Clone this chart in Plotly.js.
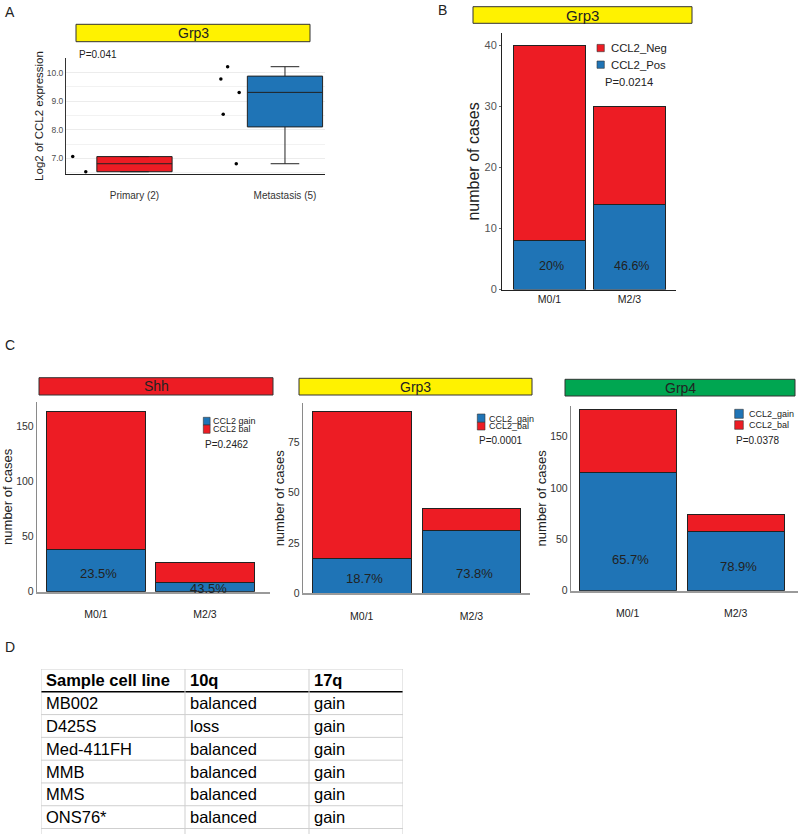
<!DOCTYPE html>
<html><head><meta charset="utf-8">
<script src="https://cdn.plot.ly/plotly-3.0.1.min.js"></script>
<style>body{margin:0;padding:0;background:#fff}#chart{width:800px;height:834px}</style>
</head><body><div id="chart"></div>
<script>
// ---------------- DATA ----------------
// Panel A: boxplot of Log2 CCL2 expression, Grp3
const boxGroups = ['Primary (2)', 'Metastasis (5)'];
const boxQ1 = [6.53, 8.10];
const boxMedian = [6.81, 9.31];
const boxQ3 = [7.06, 9.88];
const boxLowerFence = [6.53, 6.81];
const boxUpperFence = [7.06, 10.21];
const primaryPoints = [7.06, 6.53];
const metastasisPoints = [10.21, 9.78, 9.31, 8.54, 6.81];
const pValueA = 'P=0.041';

// Panel B: Grp3 CCL2 IHC by M stage
const stages = ['M0/1', 'M2/3'];
const bSeriesNames = ['CCL2_Pos', 'CCL2_Neg'];
const bPos = [8, 14];
const bNeg = [32, 16];
const bPct = ['20%', '46.6%'];
const pValueB = 'P=0.0214';

// Panel C: CCL2 copy number by M stage per subgroup
const shhNames = ['CCL2 gain', 'CCL2 bal'];
const shhGain = [38, 8];
const shhBal = [126, 19];
const shhPct = ['23.5%', '43.5%'];
const pValueShh = 'P=0.2462';

const grp3Names = ['CCL2_gain', 'CCL2_bal'];
const grp3Gain = [17, 31];
const grp3Bal = [73, 11];
const grp3Pct = ['18.7%', '73.8%'];
const pValueGrp3 = 'P=0.0001';

const grp4Names = ['CCL2_gain', 'CCL2_bal'];
const grp4Gain = [115, 58];
const grp4Bal = [61, 16];
const grp4Pct = ['65.7%', '78.9%'];
const pValueGrp4 = 'P=0.0378';

// Panel D: table
const tableHeader = ['Sample cell line', '10q', '17q'];
const cellLines = ['MB002', 'D425S', 'Med-411FH', 'MMB', 'MMS', 'ONS76*'];
const arm10q = ['balanced', 'loss', 'balanced', 'balanced', 'balanced', 'balanced'];
const arm17q = ['gain', 'gain', 'gain', 'gain', 'gain', 'gain'];

// ---------------- HELPERS / STYLE ----------------
const W = 800, H = 834;
const px = v => v / W, py = v => 1 - v / H;
const FONT = 'Liberation Sans, Arial, Helvetica, sans-serif';
const RED = '#ED1C24', BLUE = '#1F74B6', YEL = '#FFF200', GRN = '#00A651';
const EDGE = '#222';

const traces = [];
const shapes = [];
const annotations = [];

function stripBox(x0, x1, y0, y1, color, label, size) {
  shapes.push({type: 'rect', xref: 'paper', yref: 'paper', x0: px(x0), x1: px(x1), y0: py(y1), y1: py(y0),
    fillcolor: color, line: {color: '#333', width: 1}});
  annotations.push({xref: 'paper', yref: 'paper', x: px((x0 + x1) / 2), y: py((y0 + y1) / 2),
    text: label, showarrow: false, xanchor: 'center', yanchor: 'middle', font: {size: size, color: '#222'}});
}
function textAt(x, y, text, size, anchor) {
  annotations.push({xref: 'paper', yref: 'paper', x: px(x), y: py(y), text: text, showarrow: false,
    xanchor: anchor || 'left', yanchor: 'middle', font: {size: size, color: '#222'}});
}
function legendSquare(x0, w, y0, y1, color) {
  shapes.push({type: 'rect', xref: 'paper', yref: 'paper', x0: px(x0), x1: px(x0 + w), y0: py(y1), y1: py(y0),
    fillcolor: color, line: {color: '#333', width: 0.6}});
}

// ---------------- PANEL A ----------------
const boxColors = [RED, BLUE];
boxGroups.forEach((g, i) => {
  traces.push({type: 'box', xaxis: 'x', yaxis: 'y', x: [g], q1: [boxQ1[i]], median: [boxMedian[i]], q3: [boxQ3[i]],
    lowerfence: [boxLowerFence[i]], upperfence: [boxUpperFence[i]], width: 0.5, whiskerwidth: 0.38,
    fillcolor: boxColors[i], line: {color: EDGE, width: 1}, showlegend: false, hoverinfo: 'skip'});
});
[primaryPoints, metastasisPoints].forEach((pts, i) => {
  traces.push({type: 'box', xaxis: 'x', yaxis: 'y', x: pts.map(() => boxGroups[i]), y: pts,
    boxpoints: 'all', pointpos: -1.45, jitter: 0.3, width: 0.5,
    fillcolor: 'rgba(0,0,0,0)', line: {color: 'rgba(0,0,0,0)', width: 0},
    marker: {color: '#000', size: 3.5}, showlegend: false, hoverinfo: 'skip'});
});
stripBox(76, 310, 24.3, 41.7, YEL, 'Grp3', 14);
textAt(77, 54.5, pValueA, 10);

// ---------------- PANEL B ----------------
traces.push({type: 'bar', xaxis: 'x2', yaxis: 'y2', x: stages, y: bPos, name: bSeriesNames[0],
  marker: {color: BLUE, line: {color: EDGE, width: 1}}, showlegend: false, hoverinfo: 'skip'});
traces.push({type: 'bar', xaxis: 'x2', yaxis: 'y2', x: stages, y: bNeg, name: bSeriesNames[1],
  marker: {color: RED, line: {color: EDGE, width: 1}}, showlegend: false, hoverinfo: 'skip'});
stripBox(473, 692, 6.7, 23.3, YEL, 'Grp3', 15);
legendSquare(597, 7.3, 44.4, 51.7, RED);
legendSquare(597, 7.3, 61, 68.3, BLUE);
textAt(609, 48, bSeriesNames[1], 11.3);
textAt(609, 64.7, bSeriesNames[0], 11.3);
textAt(603, 81.7, pValueB, 11.2);
stages.forEach((s, i) => annotations.push({xref: 'x2', yref: 'y2', x: s, y: 3.9, text: bPct[i], showarrow: false,
  xanchor: 'center', yanchor: 'middle', xshift: 2, font: {size: 12.5, color: '#222'}}));

// ---------------- PANEL C ----------------
const panelsC = [
  {ax: 3, gain: shhGain, bal: shhBal, pct: shhPct, names: shhNames, p: pValueShh, title: 'Shh', color: RED,
   strip: [39, 273, 377.7, 395], leg: {x: 203.3, w: 6.8, ys: [417.3, 425, 433.3], tx: 210.7, cy: [421.2, 429.2]},
   pY: 444.3, pP: 203, pctY: [16.7, 2.5]},
  {ax: 4, gain: grp3Gain, bal: grp3Bal, pct: grp3Pct, names: grp3Names, p: pValueGrp3, title: 'Grp3', color: YEL,
   strip: [299, 532, 378.3, 395], leg: {x: 477.3, w: 7.7, ys: [414, 422.3, 430], tx: 486.7, cy: [418.6, 426.4]},
   pY: 440, pP: 477.3, pctY: [7.4, 9.9]},
  {ax: 5, gain: grp4Gain, bal: grp4Bal, pct: grp4Pct, names: grp4Names, p: pValueGrp4, title: 'Grp4', color: GRN,
   strip: [565, 795, 379.3, 396], leg: {x: 734.7, w: 8.6, ys: [409.3, 418.3, 420.7, 429.3], tx: 746.7, cy: [414, 425]},
   pY: 440, pP: 734, pctY: [30.6, 24]}
];
panelsC.forEach(pc => {
  const xa = 'x' + pc.ax, ya = 'y' + pc.ax;
  traces.push({type: 'bar', xaxis: xa, yaxis: ya, x: stages, y: pc.gain, name: pc.names[0],
    marker: {color: BLUE, line: {color: EDGE, width: 1}}, showlegend: false, hoverinfo: 'skip'});
  traces.push({type: 'bar', xaxis: xa, yaxis: ya, x: stages, y: pc.bal, name: pc.names[1],
    marker: {color: RED, line: {color: EDGE, width: 1}}, showlegend: false, hoverinfo: 'skip'});
  stripBox(pc.strip[0], pc.strip[1], pc.strip[2], pc.strip[3], pc.color, pc.title, 14);
  const L = pc.leg;
  if (L.ys.length === 3) {
    legendSquare(L.x, L.w, L.ys[0], L.ys[1], BLUE);
    legendSquare(L.x, L.w, L.ys[1], L.ys[2], RED);
  } else {
    legendSquare(L.x, L.w, L.ys[0], L.ys[1], BLUE);
    legendSquare(L.x, L.w, L.ys[2], L.ys[3], RED);
  }
  textAt(L.tx, L.cy[0], pc.names[0], 9);
  textAt(L.tx, L.cy[1], pc.names[1], 9);
  textAt(pc.pP, pc.pY, pc.p, 10);
  stages.forEach((s, i) => annotations.push({xref: xa, yref: ya, x: s, y: pc.pctY[i], text: pc.pct[i], showarrow: false,
    xanchor: 'center', yanchor: 'middle', xshift: 3, font: {size: 13, color: '#222'}}));
});

// ---------------- PANEL D (table on hidden axes) ----------------
const colWidths = [144, 124, 94];
const colEdges = colWidths.reduce((a, w) => { a.push(a[a.length - 1] + w); return a; }, [0]);
const nRows = cellLines.length + 1;
const tableCols = [cellLines, arm10q, arm17q];
for (let r = 0; r <= nRows; r++) {
  shapes.push({type: 'line', xref: 'x6', yref: 'y6', x0: 0, x1: colEdges[3], y0: r, y1: r,
    line: {color: r === 1 ? '#000' : '#cfcfcf', width: r === 1 ? 1.6 : 1}});
}
colEdges.forEach(c => shapes.push({type: 'line', xref: 'x6', yref: 'y6', x0: c, x1: c, y0: 0, y1: nRows + 0.3,
  line: {color: '#cfcfcf', width: 1}}));
tableHeader.forEach((h, c) => annotations.push({xref: 'x6', yref: 'y6', x: colEdges[c], y: 0.5, text: '<b>' + h + '</b>',
  showarrow: false, xanchor: 'left', yanchor: 'middle', xshift: 3, font: {size: 16.5, color: '#000'}}));
tableCols.forEach((col, c) => col.forEach((v, r) => annotations.push({xref: 'x6', yref: 'y6', x: colEdges[c], y: r + 1.5,
  text: v, showarrow: false, xanchor: 'left', yanchor: 'middle', xshift: 3, font: {size: 16.5, color: '#000'}})));
// need a trace on x6/y6 so the axes exist
traces.push({type: 'scatter', xaxis: 'x6', yaxis: 'y6', x: [], y: [], showlegend: false, hoverinfo: 'skip'});

// panel letters
textAt(3, 11.5, 'A', 14);
textAt(436, 10, 'B', 14);
textAt(3, 345, 'C', 14);
textAt(3, 647, 'D', 14);

// ---------------- LAYOUT ----------------
function catX(domainPx, range, opts) {
  return Object.assign({domain: [px(domainPx[0]), px(domainPx[1])], type: 'category', range: range,
    showline: true, linecolor: EDGE, linewidth: 1, ticks: '', showgrid: false, zeroline: false,
    tickfont: {size: 10.5, color: '#222'}, fixedrange: true}, opts || {});
}
function barY(domainPx, top, dtick, anchor, opts) {
  return Object.assign({domain: [py(domainPx[0]), py(domainPx[1])], range: [0, top], dtick: dtick, tick0: 0,
    showline: true, linecolor: '#8a8a8a', linewidth: 1.2, showgrid: false, zeroline: false, ticks: '',
    tickfont: {size: 10.5, color: '#333'}, anchor: anchor, fixedrange: true,
    title: {text: 'number of cases', font: {size: 13, color: '#222'}, standoff: 0}}, opts || {});
}

const layout = {
  width: W, height: H, margin: {l: 0, r: 0, t: 0, b: 0}, paper_bgcolor: '#fff', plot_bgcolor: 'rgba(0,0,0,0)',
  font: {family: FONT, color: '#222'}, showlegend: false, barmode: 'stack', bargap: 0.1, boxmode: 'overlay',
  xaxis: catX([66, 325], [-0.455, 1.266], {anchor: 'y', tickfont: {size: 10, color: '#333'}, ticklabelstandoff: 12}),
  yaxis: {domain: [py(174), py(58)], range: [6.45, 10.515], anchor: 'x', dtick: 1, tick0: 7, tickformat: '.1f',
    showline: true, linecolor: '#333', linewidth: 1, zeroline: false, ticks: '',
    showgrid: true, gridcolor: '#ececec', gridwidth: 1,
    minor: {dtick: 0.5, tick0: 6.5, showgrid: true, gridcolor: '#f2f2f2', gridwidth: 1},
    tickfont: {size: 8.5, color: '#4d4d4d'}, fixedrange: true,
    title: {text: 'Log2 of CCL2 expression', font: {size: 11.5, color: '#222'}, standoff: 0}},
  xaxis2: catX([502, 676], [-0.594, 1.581], {anchor: 'y2'}),
  yaxis2: barY([289.5, 33.3], 42, 10, 'x2', {linecolor: '#222', linewidth: 1, ticks: 'outside', ticklen: 2, tickcolor: '#666',
    tickfont: {size: 11, color: '#555'}, title: {text: 'number of cases', font: {size: 16, color: '#222'}, standoff: 0}}),
  xaxis3: catX([37, 270], [-0.541, 1.596], {anchor: 'y3', linecolor: '#9a9a9a', linewidth: 2, ticklabelstandoff: 12}),
  yaxis3: barY([591.7, 402], 172.5, 50, 'x3'),
  xaxis4: catX([303, 530], [-0.535, 1.533], {anchor: 'y4', linecolor: '#9a9a9a', linewidth: 2, ticklabelstandoff: 12}),
  yaxis4: barY([593.3, 403.3], 94.1, 25, 'x4'),
  xaxis5: catX([571, 798], [-0.525, 1.577], {anchor: 'y5', linecolor: '#9a9a9a', linewidth: 2, ticklabelstandoff: 12}),
  yaxis5: barY([590.7, 406], 179.8, 50, 'x5'),
  xaxis6: {domain: [px(41), px(403)], range: [0, colEdges[3]], visible: false, fixedrange: true, anchor: 'y6'},
  yaxis6: {domain: [0, py(669)], range: [nRows + 0.24, 0], visible: false, fixedrange: true, anchor: 'x6'},
  shapes: shapes, annotations: annotations
};

Plotly.newPlot('chart', traces, layout, {displayModeBar: false, staticPlot: true});
</script>
</body></html>
